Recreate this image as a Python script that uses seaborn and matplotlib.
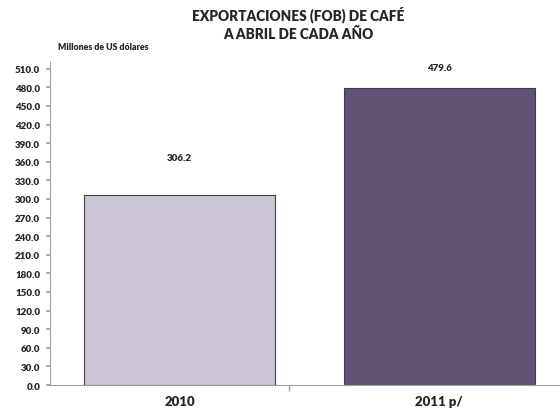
import matplotlib

matplotlib.use("Agg")
import matplotlib.pyplot as plt
import numpy as np
import pandas as pd
import seaborn as sns

# Datos
anios = ["2010", "2011 p/"]
valores = [306.2, 479.6]
colores = ["#CBC2DB", "#5F4B7B"]
ticks_y = np.arange(0, 511, 30)

sns.set_theme(style="white")
plt.rcParams["font.family"] = ["Lato", "DejaVu Sans"]

df = pd.DataFrame({"anio": anios, "valor": valores})

fig = plt.figure(figsize=(5.6, 4.14), dpi=100)
ax = fig.add_axes([0.0893, 0.0676, 0.9107, 0.7804])

sns.barplot(
    data=df, x="anio", y="valor", hue="anio", palette=colores,
    width=0.736, edgecolor="#404040", linewidth=0.8, legend=False, ax=ax,
)

ax.set_xlim(-0.499, 1.466)
ax.set_ylim(0, 521)
ax.set_yticks(ticks_y)
ax.set_yticklabels([f"{v:.1f}" for v in ticks_y], fontsize=7, fontweight="heavy")
ax.set_xticks([0, 1])
ax.set_xticklabels(anios, fontsize=9.5, fontweight="heavy")
ax.set_xticks([0.42], minor=True)
ax.tick_params(axis="x", which="major", length=0, pad=7)
ax.tick_params(axis="x", which="minor", length=4, color="#A0A0A0", direction="out", bottom=True)
ax.tick_params(axis="y", length=3, color="#A0A0A0", direction="out", left=True, pad=4)
ax.set_xlabel("")
ax.set_ylabel("")

for lado in ["top", "right"]:
    ax.spines[lado].set_visible(False)
for lado in ["left", "bottom"]:
    ax.spines[lado].set_color("#A0A0A0")
    ax.spines[lado].set_linewidth(0.8)

# Etiquetas de valor (desplazamiento distinto como en el original)
desplazamientos = [24, 11]
for barra, valor, dy in zip(ax.patches, valores, desplazamientos):
    ax.annotate(
        f"{valor:.1f}",
        (barra.get_x() + barra.get_width() / 2, barra.get_height()),
        xytext=(0, dy), textcoords="offset points",
        ha="center", va="bottom", fontsize=7, fontweight="heavy",
    )

fig.text(0.532, 0.985, "EXPORTACIONES (FOB) DE CAFÉ\nA ABRIL DE CADA AÑO",
         ha="center", va="top", fontsize=9.8, fontweight="heavy", linespacing=1.35)
fig.text(0.104, 0.886, "Millones de US dólares", ha="left", va="center",
         fontsize=6.3, fontweight="heavy")

fig.savefig("out.png", dpi=100)
